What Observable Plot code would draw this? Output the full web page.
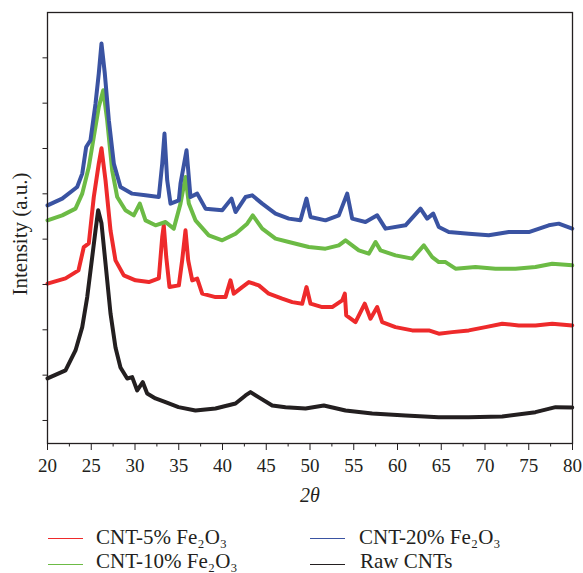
<!DOCTYPE html>
<html>
<head>
<meta charset="utf-8">
<script src="https://cdn.jsdelivr.net/npm/d3@7"></script>
<script src="https://cdn.jsdelivr.net/npm/@observablehq/plot@0.6"></script>
<style>
  html, body { margin: 0; padding: 0; background: #fff; overflow: hidden; }
  #wrap { position: relative; width: 583px; height: 573px; font-family: "Liberation Serif", "DejaVu Serif", serif; color: #231f20; }
  .leg { position: absolute; font-size: 21px; line-height: 22px; white-space: nowrap; }
  .sw { position: absolute; height: 1.2px; width: 35px; }
</style>
</head>
<body>
<div id="wrap">
  <div id="chart"></div>
  <div class="sw" style="left:48px; top:538px; background:#ee2a2b;"></div>
  <div class="leg" style="left:96px; top:526px;">CNT-5% Fe₂O₃</div>
  <div class="sw" style="left:48px; top:564px; background:#6cbb45;"></div>
  <div class="leg" style="left:96px; top:550px;">CNT-10% Fe₂O₃</div>
  <div class="sw" style="left:310px; top:538px; background:#3a53a2;"></div>
  <div class="leg" style="left:359px; top:526px;">CNT-20% Fe₂O₃</div>
  <div class="sw" style="left:310px; top:564px; background:#231f20;"></div>
  <div class="leg" style="left:360px; top:550px;">Raw CNTs</div>
</div>
<script>
// 2θ (degrees), intensity (a.u.)
const rawCNT = [
  [20.0,927],[22.06,1104],[23.2,1545],[23.97,2060],[24.54,2722],[25.11,3605],[25.49,4194],
  [25.79,4636],[26.17,4349],[26.63,3466],[27.2,2362],[27.77,1611],[28.34,1170],[29.11,927],
  [29.68,956],[30.25,662],[30.89,845],[31.39,596],[32.34,486],[33.49,404],[34.97,294],
  [36.91,221],[39.2,265],[41.49,375],[42.63,552],[43.2,625],[44.11,514],[45.68,331],
  [47.2,294],[49.49,265],[51.58,331],[54.06,221],[57.11,155],[60.91,110],[64.69,73],
  [68.11,73],[71.97,88],[75.77,183],[78.06,294],[79.97,287]
];
const cnt5 = [
  [20.0,3018],[22.06,3135],[23.54,3311],[24.15,3826],[24.72,3907],[25.29,4929],[25.86,5667],
  [26.17,6004],[26.63,5298],[27.2,4194],[27.77,3532],[28.72,3201],[30.06,3091],[31.58,3053],
  [32.72,3135],[33.11,4046],[33.29,4305],[33.57,3605],[33.94,2943],[35.01,2980],[35.39,3532],
  [35.77,4194],[36.08,3532],[36.54,3091],[37.11,3128],[37.68,2797],[39.2,2722],[40.34,2722],
  [40.91,3091],[41.29,2797],[42.25,2943],[43.01,3053],[44.15,2980],[45.29,2797],[46.82,2687],
  [47.97,2611],[49.11,2576],[49.6,2943],[50.06,2576],[51.39,2501],[52.54,2501],[53.68,2649],
  [53.98,2797],[54.14,2318],[55.2,2170],[56.26,2576],[56.91,2245],[57.68,2501],[58.25,2170],
  [59.77,2060],[61.68,1987],[63.58,1987],[64.72,1914],[66.25,1949],[68.15,1987],[70.06,2060],
  [71.97,2135],[73.86,2097],[75.77,2097],[77.68,2135],[79.97,2097]
];
const cnt10 = [
  [20.0,4415],[21.68,4525],[23.2,4673],[23.97,5004],[24.72,5592],[25.29,6254],[25.86,6916],
  [26.37,7285],[26.82,6623],[27.39,5519],[27.97,4929],[28.91,4636],[29.86,4525],[30.55,4784],
  [31.2,4415],[32.34,4305],[33.49,4378],[34.43,4232],[35.2,4784],[35.77,5371],[36.15,4784],
  [36.91,4415],[38.43,4084],[39.97,3974],[41.49,4121],[42.82,4342],[43.46,4525],[44.54,4232],
  [46.06,4011],[47.58,3936],[49.86,3826],[51.77,3790],[53.29,3863],[54.06,3974],[55.58,3753],
  [56.72,3680],[57.49,3936],[58.06,3753],[59.77,3642],[61.68,3570],[63.01,3863],[63.97,3605],
  [64.72,3494],[65.49,3494],[66.63,3349],[68.91,3384],[71.2,3349],[73.49,3349],[75.77,3384],
  [77.68,3459],[79.97,3422]
];
const cnt20 = [
  [20.0,4746],[21.68,4894],[23.39,5150],[23.97,5446],[24.42,6033],[24.91,6181],[25.49,6991],
  [25.86,7653],[26.17,8316],[26.55,7653],[27.01,6623],[27.58,5667],[28.34,5150],[29.68,5004],
  [31.2,4967],[32.72,4929],[33.11,5667],[33.37,6329],[33.68,5298],[34.06,4784],[35.01,4857],
  [35.2,5225],[35.89,5960],[36.34,4929],[37.11,5004],[38.06,4673],[39.97,4636],[41.03,4894],
  [41.49,4598],[42.63,4929],[43.39,4967],[44.54,4784],[46.06,4563],[47.58,4453],[48.91,4415],
  [49.6,4894],[50.06,4490],[51.77,4415],[53.29,4525],[54.25,5004],[54.82,4453],[56.34,4378],
  [57.68,4525],[58.63,4232],[60.91,4305],[62.63,4673],[63.39,4453],[64.08,4563],[64.72,4267],
  [65.86,4157],[68.15,4121],[70.43,4084],[72.72,4157],[75.01,4157],[77.29,4305],[78.43,4342],
  [79.97,4232]
];
const xMajorTicks = [20,25,30,35,40,45,50,55,60,65,70,75,80];
const xMinorTicks = [22.5,27.5,32.5,37.5,42.5,47.5,52.5,57.5,62.5,67.5,72.5,77.5];
const yTicks = [0,1000,2000,3000,4000,5000,6000,7000,8000];

const ink = "#231f20";
const series = [
  {data: rawCNT, color: "#231f20"},
  {data: cnt5, color: "#ee2a2b"},
  {data: cnt10, color: "#6cbb45"},
  {data: cnt20, color: "#3a53a2"}
];

const chart = Plot.plot({
  width: 583,
  height: 514,
  marginLeft: 47,
  marginRight: 11,
  marginTop: 12,
  marginBottom: 71,
  style: {fontFamily: "'Liberation Serif', 'DejaVu Serif', serif", fontSize: "19px", color: ink, background: "#fff"},
  x: {domain: [20, 80]},
  y: {domain: [-508, 9000]},
  marks: [
    ...series.map(s => Plot.line(s.data, {x: d => d[0], y: d => d[1], stroke: s.color, strokeWidth: 4, strokeLinejoin: "round", strokeLinecap: "round"})),
    Plot.frame({stroke: ink, strokeWidth: 1.3}),
    Plot.axisX({ticks: xMajorTicks, tickSize: 7, tickPadding: 8, fontSize: 19, stroke: ink, label: null}),
    Plot.axisX({ticks: xMinorTicks, tickSize: 3.5, tickFormat: () => "", stroke: ink, label: null}),
    Plot.axisY({ticks: yTicks, tickSize: 4.5, tickFormat: () => "", stroke: ink, label: null}),
    Plot.text(["Intensity (a.u.)"], {frameAnchor: "left", textAnchor: "middle", rotate: -90, dx: -27, dy: 6, fontSize: 21, fill: ink}),
    Plot.text(["2θ"], {frameAnchor: "bottom", textAnchor: "middle", dy: 58, fontSize: 20, fontStyle: "italic", fill: ink})
  ]
});
document.getElementById("chart").appendChild(chart);
</script>
</body>
</html>
